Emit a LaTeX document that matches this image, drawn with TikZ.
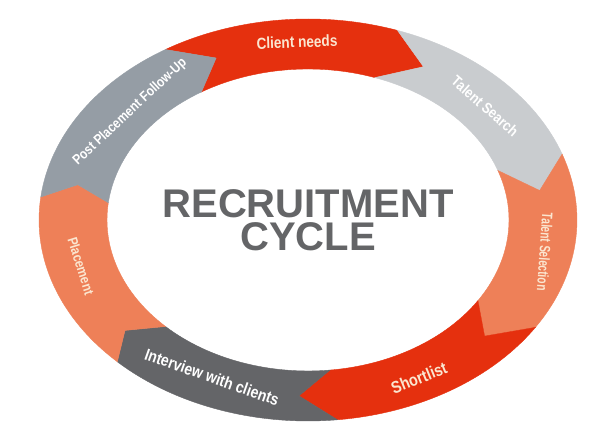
\documentclass[tikz,border=0pt]{standalone}
\usepackage{fontspec}
\setmainfont{Liberation Sans}
\newfontfamily\lblfont[FakeStretch=0.85]{Liberation Sans}
\usetikzlibrary{positioning}

\definecolor{cyred}{HTML}{E5300E}
\definecolor{cylight}{HTML}{C9CCCF}
\definecolor{cyorange}{HTML}{EE8058}
\definecolor{cygrey}{HTML}{959DA5}
\definecolor{cydark}{HTML}{646568}
\definecolor{cytitle}{HTML}{646567}
\definecolor{cycream}{HTML}{FBE6D0}

% one arrow of the ring: start angle, end angle, notch offset, tip offset, colour
\newcommand{\ringpart}[5]{%
  \filldraw[fill=#5, draw=#5, line width=0.4pt]
    ({308+269*cos(#1)},{210+201*sin(#1)})
    arc[start angle=#1, end angle=#2, x radius=269pt, y radius=201pt]
    -- ({308+235*cos(#2-#4)},{210+176*sin(#2-#4)})
    -- ({308+201*cos(#2)},{210+151*sin(#2)})
    arc[start angle=#2, end angle=#1, x radius=201pt, y radius=151pt]
    -- ({308+235*cos(#1-#3)},{210+176*sin(#1-#3)})
    -- cycle;}

\begin{document}
\begin{tikzpicture}[x=1pt, y=1pt,
    lbl/.style={inner sep=0pt, font=\lblfont\bfseries\fontsize{#1}{#1}\selectfont}]
    \fill[white] (0,0) rectangle (600,430);
    \useasboundingbox (0,0) rectangle (600,430);

    \ringpart{122}{70.57}{9}{10}{cyred}
    \ringpart{70.57}{19.14}{10}{9.5}{cylight}
    \ringpart{19.14}{-32.29}{9.5}{9}{cyorange}
    \ringpart{-32.29}{-83.71}{9}{8.5}{cyred}
    \ringpart{-83.71}{-135.14}{8.5}{6}{cydark}
    \ringpart{-135.14}{-186.57}{6}{5}{cyorange}
    \ringpart{-186.57}{-238}{5}{9}{cygrey}

    \node (client) [lbl=16, text=cycream, rotate=2] at (297,388) {Client needs};
    \node (search) [lbl=15, text=white, rotate=-41] at (485,324) {Talent Search};
    \node (select) [lbl=15, text=cycream, rotate=-94, xscale=0.8, transform shape] at (545,178) {Talent Selection};
    \node (short) [lbl=17, text=cycream, rotate=22] at (419,52) {Shortlist};
    \node (interview) [lbl=16.5, text=white, rotate=-19.5] at (212,53) {Interview with clients};
    \node (place) [lbl=14, text=cycream, rotate=-72.5] at (81,164) {Placement};
    \node (post) [lbl=14, text=white, rotate=43] at (130,318) {Post Placement Follow-Up};

    \node (title) [inner sep=0pt, text=cytitle, font=\bfseries\fontsize{40}{40}\selectfont] at (308,226) {RECRUITMENT};
    \node (cycle) [below=4pt of title, inner sep=0pt, text=cytitle, font=\bfseries\fontsize{40}{40}\selectfont] {CYCLE};
\end{tikzpicture}
\end{document}
